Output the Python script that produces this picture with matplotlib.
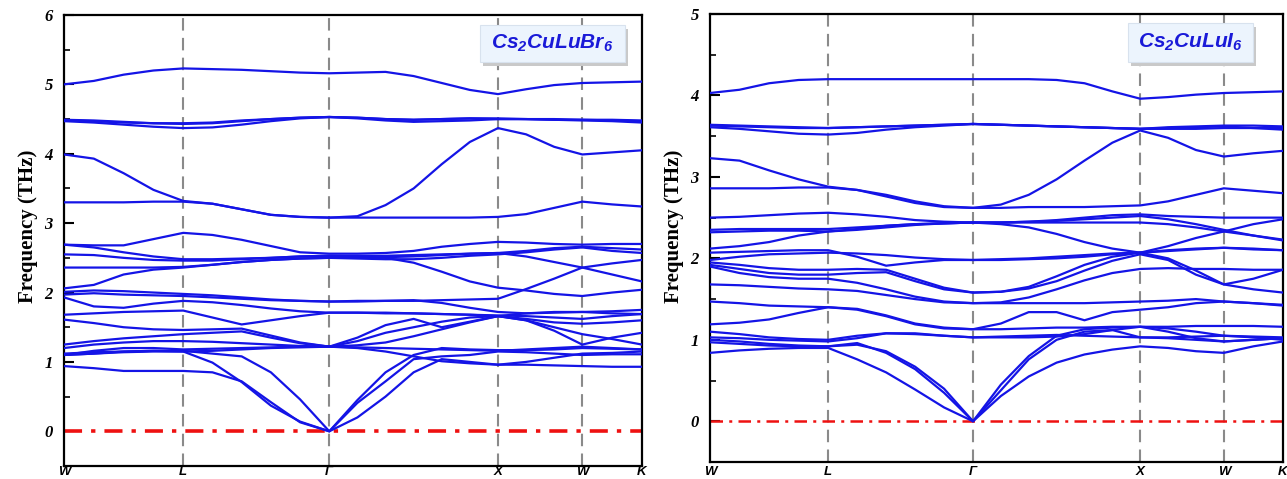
import numpy as np
import matplotlib
matplotlib.use("Agg")
import matplotlib.pyplot as plt
from matplotlib.patches import Rectangle
import matplotlib.transforms as mtransforms

plt.rcParams['mathtext.fontset'] = 'custom'
plt.rcParams['mathtext.it'] = 'Liberation Sans:italic:bold'
plt.rcParams['mathtext.rm'] = 'Liberation Sans:italic:bold'

# ---------------- data ----------------
kpath_labels = ['W', 'L', 'Γ', 'X', 'W', 'K']
kpath_dist = [0.0, 0.707, 1.573, 2.573, 3.073, 3.427]
seg_points = [4, 5, 6, 3, 2]   # intervals per segment

titles = ['Cs$_2$CuLuBr$_6$', 'Cs$_2$CuLuI$_6$']

# Cs2CuLuBr6 bands (THz) at the 21 path samples
br_bands = [
    [5.00,5.05,5.14,5.20,5.23,5.22,5.21,5.19,5.17,5.16,5.17,5.18,5.12,5.02,4.92,4.86,4.93,4.99,5.02,5.03,5.04],
    [4.49,4.48,4.46,4.44,4.43,4.44,4.47,4.50,4.52,4.53,4.52,4.50,4.49,4.50,4.51,4.51,4.50,4.50,4.49,4.48,4.47],
    [4.47,4.45,4.42,4.39,4.37,4.38,4.42,4.47,4.51,4.53,4.51,4.48,4.46,4.47,4.48,4.50,4.50,4.49,4.48,4.47,4.45],
    [4.48,4.47,4.45,4.44,4.44,4.45,4.48,4.50,4.52,4.53,4.52,4.50,4.49,4.50,4.51,4.50,4.50,4.49,4.49,4.49,4.48],
    [3.99,3.93,3.72,3.48,3.32,3.28,3.20,3.12,3.09,3.08,3.10,3.26,3.50,3.85,4.17,4.37,4.28,4.10,3.99,4.02,4.05],
    [3.30,3.30,3.30,3.31,3.31,3.28,3.20,3.12,3.09,3.08,3.08,3.08,3.08,3.08,3.08,3.09,3.13,3.22,3.31,3.27,3.24],
    [2.69,2.68,2.68,2.77,2.86,2.83,2.76,2.67,2.58,2.56,2.56,2.57,2.60,2.66,2.70,2.73,2.72,2.70,2.69,2.70,2.70],
    [2.69,2.65,2.58,2.52,2.48,2.48,2.49,2.50,2.52,2.53,2.53,2.53,2.54,2.55,2.56,2.57,2.52,2.44,2.36,2.26,2.16],
    [2.55,2.54,2.50,2.47,2.46,2.46,2.48,2.50,2.52,2.53,2.52,2.50,2.43,2.30,2.16,2.07,2.03,1.98,1.95,2.00,2.04],
    [2.36,2.36,2.36,2.36,2.37,2.40,2.44,2.47,2.49,2.50,2.50,2.51,2.52,2.54,2.56,2.57,2.60,2.64,2.66,2.64,2.62],
    [2.06,2.11,2.26,2.33,2.36,2.40,2.44,2.47,2.49,2.50,2.49,2.48,2.48,2.50,2.53,2.55,2.58,2.62,2.65,2.60,2.57],
    [2.01,2.03,2.02,2.00,1.98,1.96,1.93,1.90,1.88,1.87,1.88,1.88,1.88,1.89,1.90,1.91,2.05,2.20,2.36,2.42,2.47],
    [1.97,1.99,1.97,1.96,1.95,1.93,1.91,1.89,1.88,1.87,1.87,1.88,1.89,1.85,1.78,1.72,1.70,1.71,1.72,1.73,1.75],
    [1.93,1.80,1.78,1.84,1.88,1.86,1.82,1.77,1.73,1.71,1.71,1.71,1.70,1.69,1.68,1.67,1.66,1.64,1.62,1.66,1.69],
    [1.68,1.70,1.72,1.73,1.74,1.64,1.54,1.60,1.66,1.71,1.71,1.70,1.70,1.69,1.68,1.66,1.62,1.57,1.55,1.57,1.60],
    [1.61,1.56,1.50,1.47,1.46,1.47,1.48,1.38,1.28,1.22,1.30,1.42,1.50,1.58,1.64,1.66,1.60,1.45,1.25,1.35,1.42],
    [1.25,1.30,1.34,1.37,1.40,1.42,1.44,1.35,1.27,1.22,1.35,1.53,1.62,1.50,1.58,1.66,1.70,1.72,1.72,1.70,1.69],
    [1.20,1.25,1.28,1.30,1.30,1.29,1.27,1.25,1.23,1.22,1.24,1.28,1.37,1.47,1.57,1.66,1.60,1.50,1.40,1.33,1.25],
    [1.10,1.16,1.20,1.20,1.18,1.19,1.20,1.21,1.22,1.22,1.21,1.20,1.19,1.18,1.17,1.16,1.18,1.20,1.22,1.20,1.18],
    [1.10,1.12,1.15,1.16,1.15,1.16,1.18,1.20,1.21,1.22,1.20,1.15,1.08,1.01,0.98,0.96,1.00,1.06,1.12,1.13,1.15],
    [0.94,0.91,0.87,0.87,0.87,0.85,0.72,0.42,0.13,0.00,0.20,0.50,0.85,1.04,1.00,0.96,0.96,0.95,0.94,0.93,0.93],
    [1.10,1.12,1.14,1.15,1.15,0.99,0.71,0.37,0.14,0.00,0.41,0.72,1.04,1.08,1.10,1.15,1.14,1.12,1.10,1.11,1.11],
    [1.12,1.14,1.15,1.16,1.16,1.12,1.08,0.85,0.46,0.00,0.45,0.85,1.10,1.20,1.18,1.17,1.17,1.18,1.20,1.19,1.18],
]

# Cs2CuLuI6 bands (THz)
i_bands = [
    [4.03,4.07,4.15,4.19,4.20,4.20,4.20,4.20,4.20,4.20,4.20,4.20,4.19,4.15,4.05,3.96,3.98,4.01,4.03,4.04,4.05],
    [3.64,3.63,3.62,3.61,3.60,3.61,3.62,3.63,3.64,3.65,3.64,3.63,3.62,3.61,3.60,3.59,3.61,3.62,3.63,3.63,3.62],
    [3.61,3.59,3.56,3.53,3.52,3.54,3.58,3.61,3.63,3.65,3.64,3.63,3.62,3.61,3.60,3.59,3.60,3.61,3.62,3.60,3.58],
    [3.63,3.62,3.61,3.60,3.60,3.61,3.62,3.63,3.64,3.65,3.64,3.63,3.62,3.61,3.60,3.59,3.59,3.59,3.60,3.60,3.60],
    [3.23,3.20,3.08,2.97,2.88,2.84,2.78,2.70,2.64,2.62,2.66,2.78,2.97,3.20,3.42,3.57,3.48,3.33,3.25,3.29,3.32],
    [2.86,2.86,2.86,2.87,2.87,2.84,2.76,2.68,2.63,2.62,2.62,2.63,2.63,2.63,2.64,2.65,2.70,2.78,2.86,2.83,2.80],
    [2.50,2.51,2.53,2.55,2.56,2.54,2.51,2.47,2.45,2.44,2.44,2.45,2.47,2.50,2.53,2.54,2.52,2.51,2.50,2.50,2.50],
    [2.35,2.36,2.36,2.36,2.36,2.38,2.40,2.42,2.43,2.44,2.44,2.44,2.44,2.44,2.44,2.44,2.42,2.38,2.33,2.28,2.23],
    [2.32,2.33,2.34,2.34,2.33,2.36,2.40,2.42,2.43,2.44,2.42,2.38,2.30,2.20,2.12,2.07,2.15,2.25,2.33,2.42,2.48],
    [2.12,2.15,2.20,2.28,2.33,2.35,2.38,2.41,2.43,2.44,2.44,2.45,2.46,2.48,2.50,2.52,2.48,2.42,2.35,2.28,2.22],
    [2.07,2.08,2.09,2.10,2.10,2.02,1.91,1.95,1.98,1.98,1.99,2.00,2.02,2.04,2.06,2.07,2.10,2.12,2.13,2.11,2.10],
    [1.98,2.02,2.05,2.06,2.07,2.06,2.04,2.01,1.99,1.98,1.98,1.99,2.00,2.02,2.05,2.07,2.09,2.11,2.13,2.12,2.10],
    [1.95,1.92,1.88,1.86,1.86,1.87,1.86,1.75,1.64,1.58,1.59,1.63,1.72,1.85,1.97,2.05,1.98,1.80,1.68,1.75,1.86],
    [1.92,1.87,1.82,1.80,1.80,1.82,1.83,1.72,1.62,1.58,1.59,1.65,1.78,1.92,2.02,2.07,2.00,1.85,1.68,1.62,1.58],
    [1.90,1.82,1.77,1.75,1.75,1.70,1.62,1.53,1.47,1.45,1.46,1.52,1.62,1.73,1.82,1.87,1.88,1.87,1.87,1.86,1.86],
    [1.68,1.67,1.65,1.63,1.62,1.60,1.55,1.50,1.46,1.45,1.45,1.45,1.45,1.45,1.46,1.47,1.48,1.50,1.47,1.45,1.43],
    [1.47,1.45,1.42,1.41,1.40,1.38,1.30,1.20,1.15,1.13,1.20,1.34,1.34,1.24,1.34,1.37,1.40,1.45,1.47,1.45,1.42],
    [1.19,1.21,1.25,1.33,1.40,1.37,1.29,1.19,1.14,1.13,1.13,1.14,1.15,1.15,1.16,1.16,1.16,1.17,1.17,1.17,1.16],
    [1.10,1.07,1.03,1.01,1.00,1.05,1.08,1.07,1.05,1.03,1.04,1.05,1.06,1.05,1.04,1.03,1.03,1.04,1.05,1.04,1.03],
    [1.03,1.02,1.00,0.99,0.98,1.02,1.08,1.08,1.05,1.03,1.03,1.03,1.04,1.07,1.12,1.16,1.10,1.02,0.98,1.00,1.02],
    [0.84,0.87,0.89,0.90,0.90,0.76,0.60,0.39,0.17,0.00,0.31,0.55,0.72,0.82,0.88,0.92,0.90,0.86,0.84,0.92,0.98],
    [0.97,0.95,0.93,0.92,0.92,0.96,0.84,0.64,0.35,0.00,0.38,0.76,1.00,1.10,1.12,1.03,1.02,1.00,0.98,1.00,1.02],
    [1.00,0.98,0.95,0.93,0.92,0.94,0.86,0.67,0.40,0.00,0.45,0.80,1.05,1.13,1.15,1.16,1.14,1.10,1.05,1.03,1.00],
]

y_ranges = [(-0.5, 6.0), (-0.5, 5.0)]

# ---------------- figure ----------------
fig = plt.figure(figsize=(12.87, 4.79), dpi=100)
ax_rects = [[64/1287, 13/479, 578/1287, 451/479],
            [710/1287, 17/479, 573/1287, 448/479]]
box_rects = [(0.72, 0.896, 0.251, 0.082), (0.7295, 0.893, 0.218, 0.087)]
ylabel_x = [28/1287, 674/1287]
zero_lw = [2.6, 1.8]

# k coordinates of samples
kx = [kpath_dist[0]]
for i, n in enumerate(seg_points):
    kx.extend(np.linspace(kpath_dist[i], kpath_dist[i+1], n + 1)[1:])
kx = np.array(kx)

band_color = '#1414e6'
for p, bands in enumerate([br_bands, i_bands]):
    ax = fig.add_axes(ax_rects[p])
    for b in bands:
        ax.plot(kx, b, color=band_color, lw=1.6, zorder=3)
    for xv in kpath_dist[1:-1]:
        ax.axvline(xv, color='#8a8a8a', lw=1.5, dashes=(6, 3.5), zorder=1)
    ax.plot([kpath_dist[0], kpath_dist[-1]], [0, 0], color='#ee1111',
            lw=zero_lw[p], dashes=(5, 2.5, 1.2, 2.5), zorder=2)
    ax.set_xlim(kpath_dist[0], kpath_dist[-1])
    ax.set_ylim(*y_ranges[p])
    ax.set_xticks(kpath_dist)
    ax.set_xticklabels([])
    ax.tick_params(axis='x', length=0)
    # k-point labels placed in the strip below the axes, kept inside the figure
    trans = mtransforms.blended_transform_factory(ax.transData, fig.transFigure)
    for xv, lab in zip(kpath_dist, kpath_labels):
        ax.text(xv, 1.0 / 479, lab, transform=trans, ha='center', va='bottom',
                fontfamily='Liberation Sans', fontweight='bold',
                fontstyle='italic', fontsize=9.5, clip_on=False)
    ax.set_yticks(np.arange(0, y_ranges[p][1] + 0.01, 1))
    ax.set_yticks(np.arange(0.5, y_ranges[p][1], 1), minor=True)
    ax.set_yticklabels([str(int(v)) for v in np.arange(0, y_ranges[p][1] + 0.01, 1)],
                       fontfamily='Liberation Serif', fontweight='bold',
                       fontstyle='italic', fontsize=12)
    ax.tick_params(axis='y', which='major', direction='in', length=7, width=1.5, pad=8)
    ax.tick_params(axis='y', which='minor', direction='in', length=4, width=1.2)
    for s in ax.spines.values():
        s.set_linewidth(1.6)
    # title box with shadow
    bx, by, bw, bh = box_rects[p]
    ax.add_patch(Rectangle((bx + 0.005, by - 0.008), bw, bh, transform=ax.transAxes,
                           facecolor='#c9c9c9', edgecolor='none', zorder=5))
    ax.add_patch(Rectangle((bx, by), bw, bh, transform=ax.transAxes,
                           facecolor='#ecf4fd', edgecolor='#d8e2ee', lw=0.8, zorder=6))
    ax.text(bx + bw / 2, by + bh / 2, titles[p], transform=ax.transAxes,
            ha='center', va='center', color='#1a1ad8', fontsize=15,
            fontfamily='Liberation Sans', fontweight='bold', fontstyle='italic', zorder=7)
    fig.text(ylabel_x[p], 1 - 226/479, 'Frequency (THz)', rotation=90,
             ha='center', va='center', fontfamily='Liberation Serif',
             fontweight='bold', fontsize=15)

fig.savefig('out.png', dpi=100)
